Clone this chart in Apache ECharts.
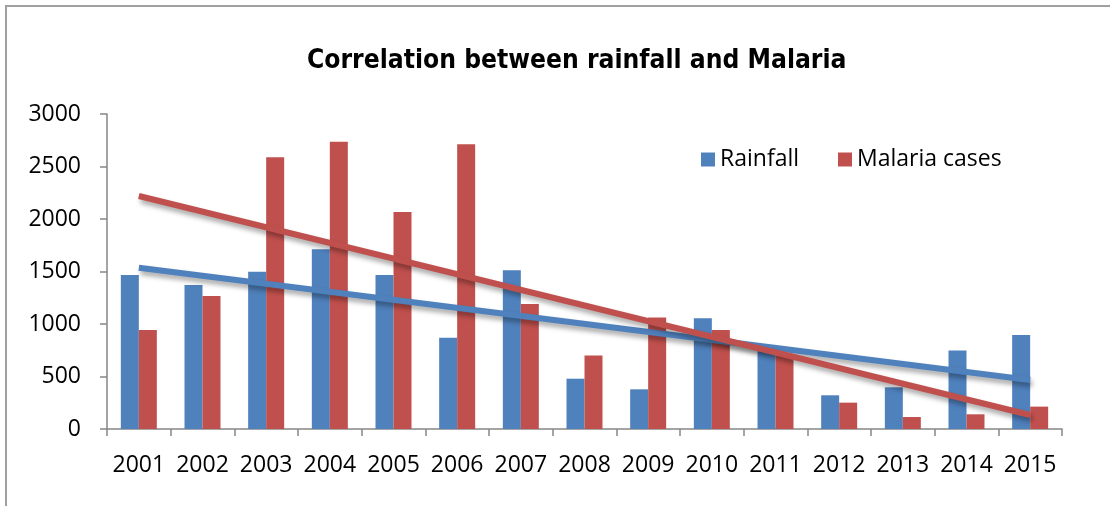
<!DOCTYPE html>
<html>
<head>
<meta charset="utf-8">
<style>
  html, body { margin: 0; padding: 0; background: #ffffff; }
  #chart { width: 1110px; height: 506px; }
</style>
<script src="https://cdn.jsdelivr.net/npm/echarts@6/dist/echarts.min.js"></script>
</head>
<body>
<div id="chart"></div>
<script>
// Yearly totals
const years = ['2001', '2002', '2003', '2004', '2005', '2006', '2007', '2008',
               '2009', '2010', '2011', '2012', '2013', '2014', '2015'];
const rainfall = [1467, 1371, 1498, 1711, 1467, 870, 1511, 479, 378, 1054, 740, 321, 397, 748, 896];
const malariaCases = [943, 1267, 2587, 2736, 2067, 2711, 1190, 701, 1063, 943, 700, 251, 114, 140, 213];

// Linear trend lines: value at the first and at the last year
const rainfallTrend = [1536, 467];
const malariaTrend = [2219, 133];

const yTicks = [0, 500, 1000, 1500, 2000, 2500, 3000];

const BLUE = '#4F81BD';
const RED = '#C0504D';
const AXIS = '#868686';
const LABEL_FONT = '"Open Sans", "Liberation Sans", sans-serif';

function trendPoints(ends) {
  return [[years[0], ends[0]], [years[years.length - 1], ends[1]]];
}

function trendSeries(name, ends, color) {
  return {
    name: name,
    type: 'line',
    data: trendPoints(ends),
    symbol: 'none',
    silent: true,
    lineStyle: {
      color: color,
      width: 6,
      cap: 'butt',
      shadowColor: 'rgba(0,0,0,0.35)',
      shadowBlur: 5,
      shadowOffsetX: 2,
      shadowOffsetY: 4
    },
    z: 3
  };
}

const chart = echarts.init(document.getElementById('chart'), null, { renderer: 'canvas' });

chart.setOption({
  animation: false,
  backgroundColor: '#ffffff',
  graphic: [{
    type: 'rect',
    shape: { x: 6, y: 6, width: 1120, height: 520 },
    style: { fill: 'none', stroke: '#a0a0a0', lineWidth: 2 },
    silent: true
  }],
  title: {
    text: 'Correlation between rainfall and Malaria',
    left: 302,
    top: 43,
    textStyle: {
      fontFamily: '"DejaVu Sans Condensed", "DejaVu Sans", sans-serif',
      fontWeight: 'bold',
      fontSize: 26.2,
      color: '#000000'
    }
  },
  legend: {
    data: ['Rainfall', 'Malaria cases'],
    left: 696,
    top: 143,
    icon: 'rect',
    itemWidth: 14,
    itemHeight: 14,
    itemGap: 39,
    textStyle: { fontFamily: LABEL_FONT, fontSize: 23, color: '#000000' }
  },
  grid: { left: 107, right: 48, top: 114, bottom: 77, containLabel: false },
  xAxis: {
    type: 'category',
    data: years,
    boundaryGap: true,
    axisLine: { lineStyle: { color: AXIS, width: 1.5 } },
    axisTick: { show: true, length: 7, lineStyle: { color: AXIS, width: 1.5 } },
    axisLabel: {
      interval: 0,
      hideOverlap: false,
      margin: 25,
      fontFamily: LABEL_FONT,
      fontSize: 23,
      color: '#000000'
    },
    splitLine: { show: false }
  },
  yAxis: {
    type: 'value',
    min: yTicks[0],
    max: yTicks[yTicks.length - 1],
    interval: yTicks[1] - yTicks[0],
    axisLine: { show: true, lineStyle: { color: AXIS, width: 1.5 } },
    axisTick: { show: true, length: 7, lineStyle: { color: AXIS, width: 1.5 } },
    axisLabel: {
      margin: 26,
      fontFamily: LABEL_FONT,
      fontSize: 23,
      color: '#000000',
      formatter: function (v) { return String(v); }
    },
    splitLine: { show: false }
  },
  series: [
    {
      name: 'Rainfall',
      type: 'bar',
      data: rainfall,
      barWidth: 18,
      barGap: '0%',
      itemStyle: { color: BLUE }
    },
    {
      name: 'Malaria cases',
      type: 'bar',
      data: malariaCases,
      barWidth: 18,
      barGap: '0%',
      itemStyle: { color: RED }
    },
    trendSeries('Rainfall trend', rainfallTrend, BLUE),
    trendSeries('Malaria cases trend', malariaTrend, RED)
  ]
});
</script>
</body>
</html>
